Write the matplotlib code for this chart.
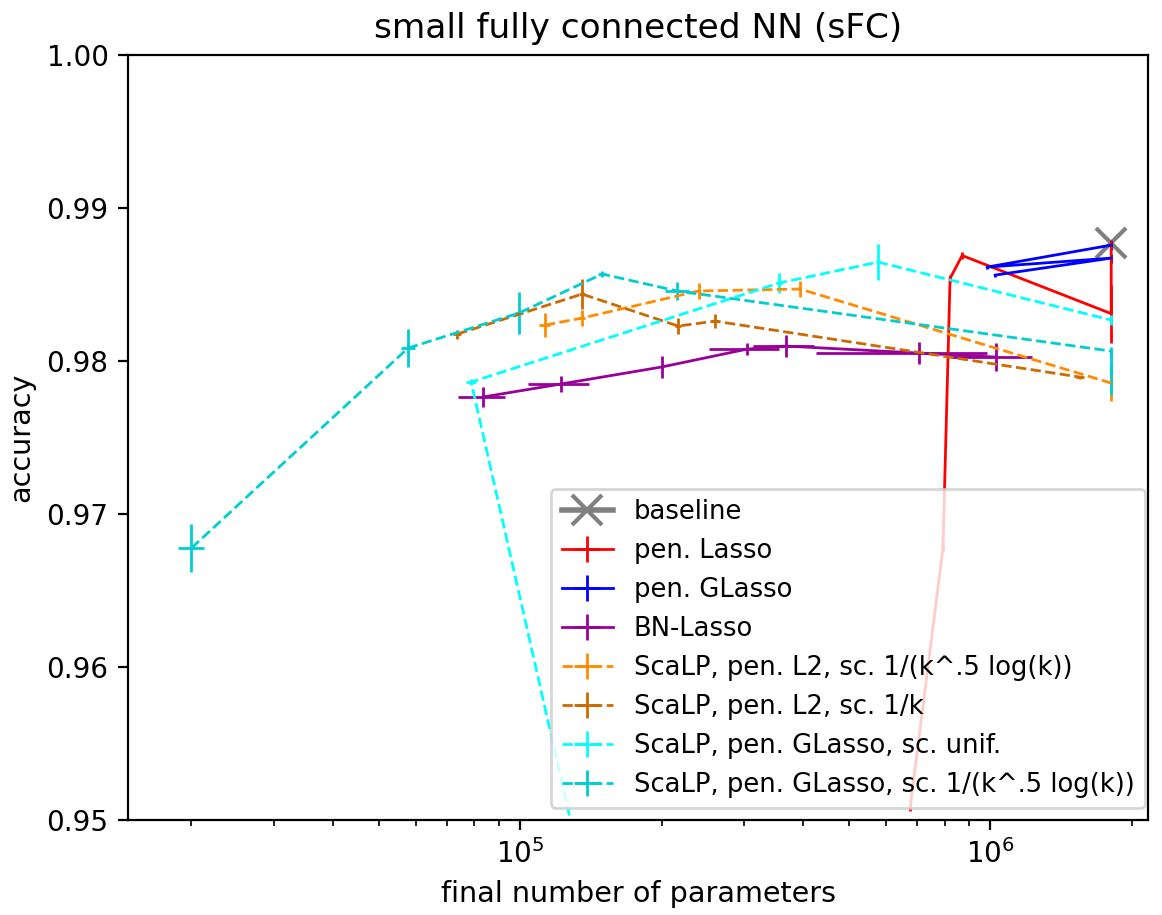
import matplotlib
matplotlib.use('agg')
import matplotlib.pyplot as plt

# baseline (full network)
base_x = [1.81e6]
base_y = [0.9877]

# pen. Lasso
lasso_x = [1.81e6, 1.81e6, 8.72e5, 8.22e5, 7.94e5, 6.76e5]
lasso_y = [0.9877, 0.9831, 0.9869, 0.9854, 0.9678, 0.9508]
lasso_xerr = [0, 0, 0, 0, 0, 0]
lasso_yerr = [0.0002, 0.0019, 0.0002, 0.0002, 0.0002, 0.0002]

# pen. GLasso
glasso_x = [1.81e6, 9.85e5, 1.81e6, 1.025e6]
glasso_y = [0.98758, 0.98614, 0.98673, 0.98562]
glasso_xerr = [0, 0, 0, 0]
glasso_yerr = [0.0003, 0.0001, 0.0003, 0.0001]

# BN-Lasso
bn_x = [8.34e4, 1.222e5, 2.0e5, 3.04e5, 3.68e5, 7.06e5, 1.03e6]
bn_y = [0.97765, 0.97850, 0.97961, 0.98078, 0.98098, 0.98052, 0.98026]
bn_xerr = [9.5e3, 1.8e4, 1e3, 5.2e4, 5.5e4, 2.8e5, 2.0e5]
bn_yerr = [0.00065, 0.00055, 0.0007, 0.0004, 0.0007, 0.0007, 0.0009]

# ScaLP, pen. L2, sc. 1/(k^.5 log(k))
l2a_x = [1.13e5, 1.355e5, 2.40e5, 3.94e5, 1.81e6]
l2a_y = [0.98235, 0.98281, 0.98458, 0.98471, 0.97856]
l2a_xerr = [3e3, 2e3, 3e3, 3e3, 0]
l2a_yerr = [0.0008, 0.0005, 0.0005, 0.0005, 0.0012]

# ScaLP, pen. L2, sc. 1/k
l2b_x = [7.35e4, 1.355e5, 2.17e5, 2.60e5, 1.554e6]
l2b_y = [0.98176, 0.98438, 0.98229, 0.98261, 0.97895]
l2b_xerr = [1.5e3, 2e3, 3e3, 5e3, 3e4]
l2b_yerr = [0.0003, 0.001, 0.0005, 0.00045, 0.0001]

# ScaLP, pen. GLasso, sc. unif.
gla_x = [1.517e5, 7.87e4, 3.556e5, 5.78e5, 1.81e6]
gla_y = [0.9400, 0.97863, 0.98510, 0.98647, 0.98268]
gla_xerr = [0, 2e3, 5e3, 5e3, 0]
gla_yerr = [0.0002, 0.0002, 0.00065, 0.0012, 0.0003]

# ScaLP, pen. GLasso, sc. 1/(k^.5 log(k))
glb_x = [2.0e4, 5.78e4, 9.95e4, 1.495e5, 2.16e5, 1.81e6, 1.81e6]
glb_y = [0.96778, 0.98085, 0.98314, 0.98569, 0.98458, 0.98065, 0.97908]
glb_xerr = [1.25e3, 2e3, 2e3, 3e3, 1.3e4, 0, 0]
glb_yerr = [0.0016, 0.00125, 0.0014, 0.0002, 0.0006, 0.0003, 0.0013]

fig = plt.figure(figsize=(5.81, 4.575), dpi=200)
ax = fig.add_axes([0.1102, 0.1038, 0.8778, 0.836])

ax.plot(base_x, base_y, marker='x', color='gray', markersize=11, mew=1.5, lw=2, label='baseline')

series = [
    (lasso_x, lasso_y, lasso_xerr, lasso_yerr, 'red', '-', 'pen. Lasso'),
    (glasso_x, glasso_y, glasso_xerr, glasso_yerr, 'blue', '-', 'pen. GLasso'),
    (bn_x, bn_y, bn_xerr, bn_yerr, '#990099', '-', 'BN-Lasso'),
    (l2a_x, l2a_y, l2a_xerr, l2a_yerr, 'darkorange', '--', 'ScaLP, pen. L2, sc. 1/(k^.5 log(k))'),
    (l2b_x, l2b_y, l2b_xerr, l2b_yerr, '#cc6a00', '--', 'ScaLP, pen. L2, sc. 1/k'),
    (gla_x, gla_y, gla_xerr, gla_yerr, 'cyan', '--', 'ScaLP, pen. GLasso, sc. unif.'),
    (glb_x, glb_y, glb_xerr, glb_yerr, 'darkturquoise', '--', 'ScaLP, pen. GLasso, sc. 1/(k^.5 log(k))'),
]
for x, y, xe, ye, c, ls, lab in series:
    ax.errorbar(x, y, xerr=xe, yerr=ye, color=c, ls=ls, lw=1, elinewidth=1, label=lab)

ax.set_xscale('log')
ax.set_xlim(1.466e4, 2.168e6)
ax.set_ylim(0.95, 1.0)
ax.set_xlabel('final number of parameters', fontsize=10.3)
ax.set_ylabel('accuracy', fontsize=10.3)
ax.set_title('small fully connected NN (sFC)', fontsize=12.4)
ax.legend(loc='lower right', bbox_to_anchor=(0.997, 0.0157), borderaxespad=0, fontsize=9.3)

fig.savefig('out.png', dpi=200)
